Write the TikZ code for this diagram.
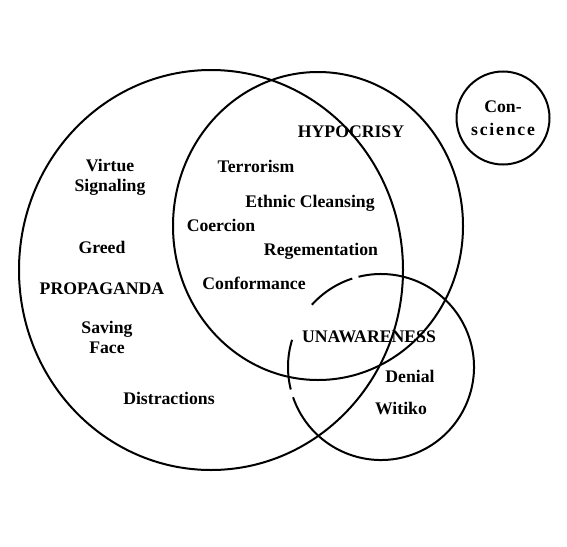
\documentclass[tikz,border=0pt]{standalone}
\usepackage{fontspec}
\setmainfont{Liberation Serif}
\usetikzlibrary{positioning}

\begin{document}
\begin{tikzpicture}[x=1pt, y=-1pt,
    ring/.style={draw=black, line width=2pt},
    lbl/.style={font=\fontsize{17.7}{20}\selectfont\bfseries, align=center, inner sep=0pt}]
  \useasboundingbox (0,0) rectangle (567,546);

  % Propaganda circle
  \draw[ring] (211,270) circle[x radius=192pt, y radius=200pt];
  % Hypocrisy circle
  \draw[ring] (318,226) circle[x radius=145pt, y radius=154pt];
  % Unawareness circle (broken line)
  \coordinate (unc) at (381,367);
  \draw[ring] (unc) ++(108:93pt) arc[start angle=108, end angle=138, radius=93pt];
  \draw[ring] (unc) ++(163:93pt) arc[start angle=163, end angle=194, radius=93pt];
  \draw[ring] (unc) ++(199:93pt) arc[start angle=199, end angle=464, radius=93pt];
  % Conscience
  \node[ring, circle, minimum size=93pt, lbl] (conscience) at (503,118)
       {Con-\\[3pt]{\addfontfeature{LetterSpace=10}science}};

  % Propaganda side
  \node[lbl] (virtue) at (110,177) {Virtue\\Signaling};
  \node[lbl] (greed) at (102,247) {Greed};
  \node[lbl] (propaganda) at (102,289) {PROPAGANDA};
  \node[lbl] (saving) at (107,337) {Saving\\Face};
  \node[lbl] (distractions) at (169,398) {Distractions};

  % Hypocrisy side
  \node[lbl] (hypocrisy) at (351,132) {HYPOCRISY};
  \node[lbl] (terrorism) at (256,166) {Terrorism};
  \node[lbl] (ethnic) at (310,203) {Ethnic Cleansing};
  \node[lbl] (coercion) at (221,225) {Coercion};
  \node[lbl] (regementation) at (321,251) {Regementation};
  \node[lbl] (conformance) at (254,283) {Conformance};

  % Unawareness side
  \node[lbl] (unawareness) at (369,337) {UNAWARENESS};
  \node[lbl] (denial) at (410,376) {Denial};
  \node[lbl] (witiko) at (401,408) {Witiko};
\end{tikzpicture}
\end{document}
